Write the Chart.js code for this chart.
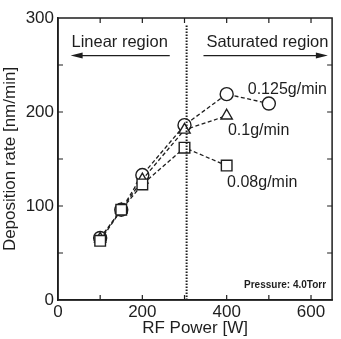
<!DOCTYPE html>
<html>
<head>
<meta charset="utf-8">
<script src="https://cdn.jsdelivr.net/npm/chart.js@4.4.1/dist/chart.umd.min.js"></script>
<style>
  html, body { margin: 0; padding: 0; background: #fff; }
  #wrap { width: 341px; height: 339px; position: relative; }
</style>
</head>
<body>
<div id="wrap"><canvas id="chart"></canvas></div>
<script>
const powers = [100, 150, 200, 300, 400, 500];
const rate125 = [66, 96, 133, 186, 219, 209];
const rate100 = [65, 96, 128, 181, 196];
const rate080 = [63, 96, 123, 162, 143];
const seriesLabels = ["0.125g/min", "0.1g/min", "0.08g/min"];
const xTicks = [0, 200, 400, 600];
const yTicks = [0, 100, 200, 300];
const boundaryPower = 305;

const INK = "#1e1e1e";
const FONT = "'Liberation Sans', Arial, sans-serif";

const toPoints = (ys) => ys.map((y, i) => ({ x: powers[i], y }));

const mkSet = (label, ys, style) => ({
  label,
  data: toPoints(ys),
  showLine: true,
  borderColor: INK,
  borderWidth: 1.3,
  borderDash: [4, 2.5],
  pointStyle: style,
  pointRadius: style === "rect" ? 7.5 : 6.5,
  pointBackgroundColor: "#fff",
  pointBorderColor: INK,
  pointBorderWidth: 1.4,
});

const annotate = {
  id: "annotate",
  afterDraw(chart) {
    const { ctx, chartArea: a, scales: { x, y } } = chart;
    ctx.save();
    ctx.strokeStyle = INK;
    ctx.fillStyle = INK;

    // inward ticks on all four sides
    ctx.lineWidth = 1.2;
    ctx.beginPath();
    for (let v = 100; v < 650; v += 100) {
      const px = x.getPixelForValue(v);
      ctx.moveTo(px, a.bottom); ctx.lineTo(px, a.bottom - 5);
      ctx.moveTo(px, a.top); ctx.lineTo(px, a.top + 5);
    }
    for (let v = 50; v < 300; v += 50) {
      const py = y.getPixelForValue(v);
      ctx.moveTo(a.left, py); ctx.lineTo(a.left + 5, py);
      ctx.moveTo(a.right, py); ctx.lineTo(a.right - 5, py);
    }
    ctx.stroke();

    // dotted boundary line
    const bx = x.getPixelForValue(boundaryPower);
    ctx.lineWidth = 2;
    ctx.setLineDash([1.5, 1.5]);
    ctx.beginPath();
    ctx.moveTo(bx, y.getPixelForValue(292));
    ctx.lineTo(bx, a.bottom);
    ctx.stroke();
    ctx.setLineDash([]);

    // region arrows
    const arrow = (x0, x1, yv) => {
      const p0 = x.getPixelForValue(x0), p1 = x.getPixelForValue(x1);
      const py = y.getPixelForValue(yv);
      const dir = Math.sign(p1 - p0);
      ctx.lineWidth = 1.4;
      ctx.beginPath();
      ctx.moveTo(p0, py); ctx.lineTo(p1 - dir * 8, py);
      ctx.stroke();
      ctx.beginPath();
      ctx.moveTo(p1, py);
      ctx.lineTo(p1 - dir * 12, py - 3);
      ctx.lineTo(p1 - dir * 12, py + 3);
      ctx.closePath();
      ctx.fill();
    };
    arrow(265, 30, 260);
    arrow(345, 640, 260);

    ctx.textBaseline = "middle";
    ctx.font = "16.5px " + FONT;
    ctx.textAlign = "left";
    ctx.fillText("Linear region", x.getPixelForValue(32), y.getPixelForValue(274));
    ctx.fillText("Saturated region", x.getPixelForValue(352), y.getPixelForValue(274));

    ctx.font = "16px " + FONT;
    ctx.fillText(seriesLabels[0], x.getPixelForValue(450), y.getPixelForValue(224));
    ctx.fillText(seriesLabels[1], x.getPixelForValue(403), y.getPixelForValue(180));
    ctx.fillText(seriesLabels[2], x.getPixelForValue(401), y.getPixelForValue(125));

    ctx.font = "bold 10px " + FONT;
    ctx.textAlign = "right";
    ctx.fillText("Pressure: 4.0Torr", a.right - 6, y.getPixelForValue(16));
    ctx.restore();
  },
};

new Chart(document.getElementById("chart"), {
  type: "scatter",
  data: {
    datasets: [
      mkSet(seriesLabels[2], rate080, "rect"),
      mkSet(seriesLabels[1], rate100, "triangle"),
      mkSet(seriesLabels[0], rate125, "circle"),
    ],
  },
  options: {
    responsive: true,
    maintainAspectRatio: false,
    animation: false,
    layout: { padding: { top: 18, right: 2, left: 0, bottom: 0 } },
    plugins: { legend: { display: false }, tooltip: { enabled: false } },
    scales: {
      x: {
        type: "linear",
        min: 0,
        max: 650,
        afterBuildTicks: (s) => { s.ticks = xTicks.map((v) => ({ value: v })); },
        afterFit: (s) => { s.height = 39; },
        grid: { display: false, drawTicks: false },
        border: { color: INK, width: 1.5 },
        ticks: { color: INK, padding: 2, font: { family: FONT, size: 17 } },
        title: {
          display: true,
          text: "RF Power [W]",
          color: INK,
          padding: 0,
          font: { family: FONT, size: 17 },
        },
      },
      y: {
        min: 0,
        max: 300,
        afterBuildTicks: (s) => { s.ticks = yTicks.map((v) => ({ value: v })); },
        afterFit: (s) => { s.width = 58; },
        grid: { display: false, drawTicks: false },
        border: { color: INK, width: 1.5 },
        ticks: { color: INK, padding: 4, font: { family: FONT, size: 17 } },
        title: {
          display: true,
          text: "Deposition rate [nm/min]",
          color: INK,
          padding: 0,
          font: { family: FONT, size: 17 },
        },
      },
    },
  },
  plugins: [
    annotate,
    {
      id: "frame",
      afterDatasetsDraw(chart) {
        const { ctx, chartArea: a } = chart;
        ctx.save();
        ctx.strokeStyle = INK;
        ctx.lineWidth = 1.5;
        ctx.strokeRect(a.left, a.top, a.right - a.left, a.bottom - a.top);
        ctx.restore();
      },
    },
  ],
});
</script>
</body>
</html>
